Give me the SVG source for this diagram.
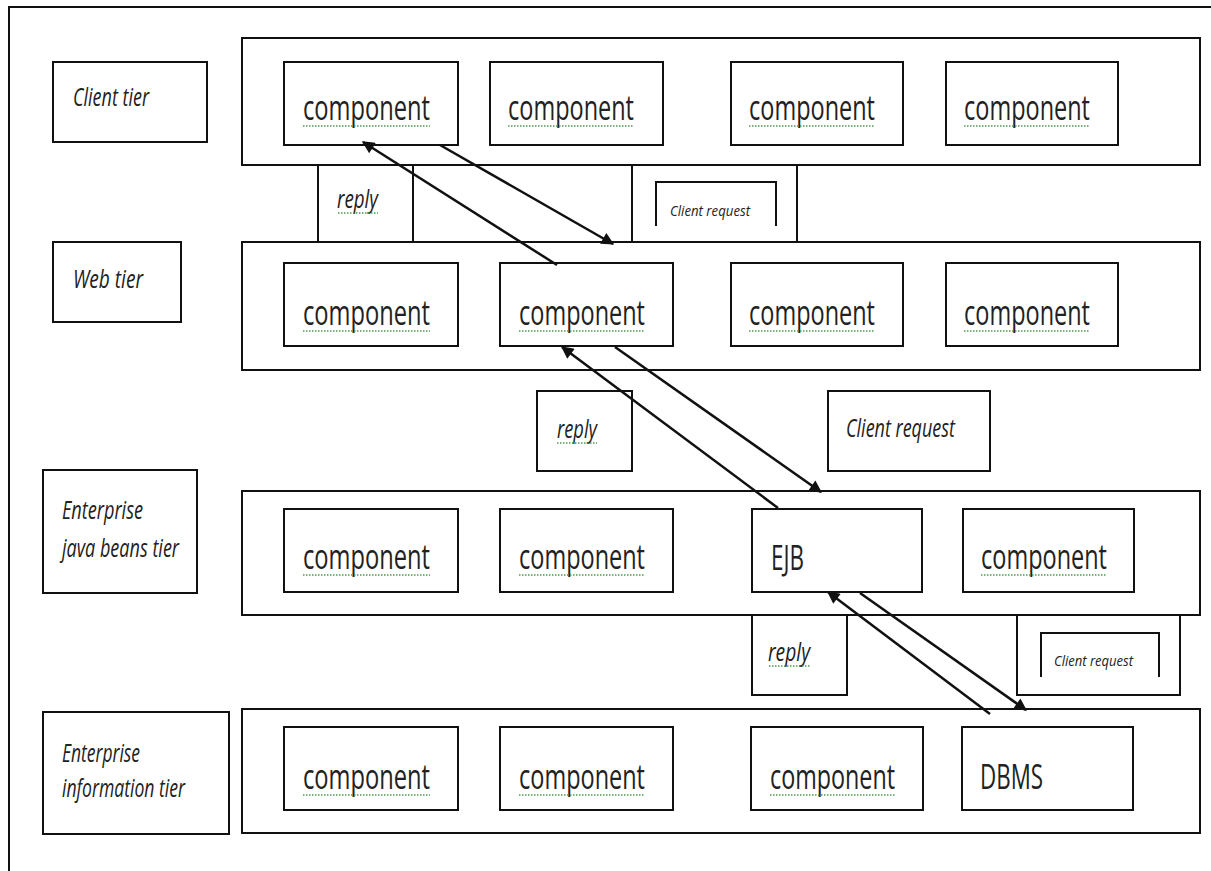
<svg xmlns="http://www.w3.org/2000/svg" width="1211" height="871" viewBox="0 0 1211 871">
<style>
.box{fill:#fff;stroke:#111;stroke-width:2}
.ln{fill:none;stroke:#111;stroke-width:2}
.conn{fill:none;stroke:#111;stroke-width:2.5}
.comp{font-family:"Open Sans","DejaVu Sans",sans-serif;font-size:34px;fill:#222}
.lab{font-family:"Open Sans","DejaVu Sans",sans-serif;font-style:italic;font-size:26px;fill:#222}
.sm{font-family:"Open Sans","DejaVu Sans",sans-serif;font-style:italic;font-size:15px;fill:#222}
.sq{fill:none;stroke:#4a9a4a;stroke-width:1.5;stroke-dasharray:1.5 1.5}
</style>
<defs>
<marker id="ah" viewBox="0 0 10 10" refX="9" refY="5" markerWidth="6" markerHeight="5" orient="auto" markerUnits="strokeWidth">
<path d="M0,0 L10,5 L0,10 z" fill="#111"/>
</marker>
</defs>
<rect width="1211" height="871" fill="#fff"/>
<g id="frame"><path class="ln" d="M9,871 V7 H1211"/></g>

<g id="client-tier-label"><rect class="box" x="53" y="62" width="154" height="80"/><text class="lab" x="73" y="106" textLength="76" lengthAdjust="spacingAndGlyphs">Client tier</text></g>
<g id="web-tier-label"><rect class="box" x="53" y="242" width="128" height="80"/><text class="lab" x="73" y="288" textLength="70" lengthAdjust="spacingAndGlyphs">Web tier</text></g>
<g id="ejb-tier-label"><rect class="box" x="43" y="470" width="154" height="123"/><text class="lab" x="62" y="519" textLength="81" lengthAdjust="spacingAndGlyphs">Enterprise</text><text class="lab" x="62" y="557" textLength="117" lengthAdjust="spacingAndGlyphs">java beans tier</text></g>
<g id="eis-tier-label"><rect class="box" x="43" y="712" width="186" height="122"/><text class="lab" x="62" y="762" textLength="78" lengthAdjust="spacingAndGlyphs">Enterprise</text><text class="lab" x="62" y="797" textLength="123" lengthAdjust="spacingAndGlyphs">information tier</text></g>

<g id="client-tier"><rect class="box" x="242" y="38" width="958" height="127"/></g>
<g id="web-tier"><rect class="box" x="242" y="242" width="958" height="128"/></g>
<g id="ejb-tier"><rect class="box" x="242" y="491" width="958" height="124"/></g>
<g id="eis-tier"><rect class="box" x="242" y="709" width="958" height="124"/></g>

<g id="reply1"><rect class="box" x="318" y="165" width="95" height="77"/><text class="lab" x="337" y="208" textLength="41" lengthAdjust="spacingAndGlyphs">reply</text><path class="sq" d="M338,213 H378"/></g>
<g id="request1"><rect class="box" x="632" y="165" width="165" height="77"/><path class="ln" d="M656,226 V182 H776 V226"/><text class="sm" x="670" y="216" textLength="80" lengthAdjust="spacingAndGlyphs">Client request</text></g>
<g id="reply2"><rect class="box" x="537" y="391" width="95" height="80"/><text class="lab" x="557" y="438" textLength="40" lengthAdjust="spacingAndGlyphs">reply</text><path class="sq" d="M557,443 H597"/></g>
<g id="request2"><rect class="box" x="828" y="391" width="162" height="80"/><text class="lab" x="846" y="437" textLength="109" lengthAdjust="spacingAndGlyphs">Client request</text></g>
<g id="reply3"><rect class="box" x="752" y="615" width="95" height="80"/><text class="lab" x="768" y="661" textLength="42" lengthAdjust="spacingAndGlyphs">reply</text><path class="sq" d="M769,666 H810"/></g>
<g id="request3"><rect class="box" x="1017" y="615" width="163" height="80"/><path class="ln" d="M1041,677 V633 H1159 V677"/><text class="sm" x="1054" y="666" textLength="79" lengthAdjust="spacingAndGlyphs">Client request</text></g>

<g id="c1"><rect class="box" x="284" y="62" width="174" height="83"/><text class="comp" x="303" y="120" textLength="127" lengthAdjust="spacingAndGlyphs">component</text><path class="sq" d="M303,126 H430"/></g>
<g id="c2"><rect class="box" x="490" y="62" width="173" height="83"/><text class="comp" x="508" y="120" textLength="126" lengthAdjust="spacingAndGlyphs">component</text><path class="sq" d="M508,126 H634"/></g>
<g id="c3"><rect class="box" x="731" y="62" width="172" height="83"/><text class="comp" x="749" y="120" textLength="126" lengthAdjust="spacingAndGlyphs">component</text><path class="sq" d="M749,126 H875"/></g>
<g id="c4"><rect class="box" x="946" y="62" width="172" height="83"/><text class="comp" x="964" y="120" textLength="126" lengthAdjust="spacingAndGlyphs">component</text><path class="sq" d="M964,126 H1090"/></g>

<g id="w1"><rect class="box" x="284" y="263" width="174" height="83"/><text class="comp" x="303" y="325" textLength="127" lengthAdjust="spacingAndGlyphs">component</text><path class="sq" d="M303,331 H430"/></g>
<g id="w2"><rect class="box" x="500" y="263" width="173" height="83"/><text class="comp" x="519" y="325" textLength="126" lengthAdjust="spacingAndGlyphs">component</text><path class="sq" d="M519,331 H645"/></g>
<g id="w3"><rect class="box" x="731" y="263" width="172" height="83"/><text class="comp" x="749" y="325" textLength="126" lengthAdjust="spacingAndGlyphs">component</text><path class="sq" d="M749,331 H875"/></g>
<g id="w4"><rect class="box" x="946" y="263" width="172" height="83"/><text class="comp" x="964" y="325" textLength="126" lengthAdjust="spacingAndGlyphs">component</text><path class="sq" d="M964,331 H1090"/></g>

<g id="e1"><rect class="box" x="284" y="509" width="174" height="83"/><text class="comp" x="303" y="569" textLength="127" lengthAdjust="spacingAndGlyphs">component</text><path class="sq" d="M303,575 H430"/></g>
<g id="e2"><rect class="box" x="500" y="509" width="173" height="83"/><text class="comp" x="519" y="569" textLength="126" lengthAdjust="spacingAndGlyphs">component</text><path class="sq" d="M519,575 H645"/></g>
<g id="ejb"><rect class="box" x="752" y="509" width="170" height="83"/><text class="comp" x="771" y="570" textLength="33" lengthAdjust="spacingAndGlyphs">EJB</text></g>
<g id="e4"><rect class="box" x="963" y="509" width="171" height="83"/><text class="comp" x="981" y="569" textLength="126" lengthAdjust="spacingAndGlyphs">component</text><path class="sq" d="M981,575 H1107"/></g>

<g id="d1"><rect class="box" x="284" y="727" width="174" height="83"/><text class="comp" x="303" y="789" textLength="127" lengthAdjust="spacingAndGlyphs">component</text><path class="sq" d="M303,795 H430"/></g>
<g id="d2"><rect class="box" x="500" y="727" width="173" height="83"/><text class="comp" x="519" y="789" textLength="126" lengthAdjust="spacingAndGlyphs">component</text><path class="sq" d="M519,795 H645"/></g>
<g id="d3"><rect class="box" x="751" y="727" width="172" height="83"/><text class="comp" x="770" y="789" textLength="125" lengthAdjust="spacingAndGlyphs">component</text><path class="sq" d="M770,795 H895"/></g>
<g id="dbms"><rect class="box" x="962" y="727" width="171" height="83"/><text class="comp" x="980" y="789" textLength="63" lengthAdjust="spacingAndGlyphs">DBMS</text></g>

<g id="connectors">
<line class="conn" x1="440" y1="145" x2="613" y2="244" marker-end="url(#ah)"/>
<line class="conn" x1="557" y1="265" x2="363" y2="142" marker-end="url(#ah)"/>
<line class="conn" x1="615" y1="347" x2="821" y2="492" marker-end="url(#ah)"/>
<line class="conn" x1="778" y1="508" x2="562" y2="347" marker-end="url(#ah)"/>
<line class="conn" x1="860" y1="593" x2="1026" y2="710" marker-end="url(#ah)"/>
<line class="conn" x1="990" y1="714" x2="828" y2="592" marker-end="url(#ah)"/>
</g>
</svg>
